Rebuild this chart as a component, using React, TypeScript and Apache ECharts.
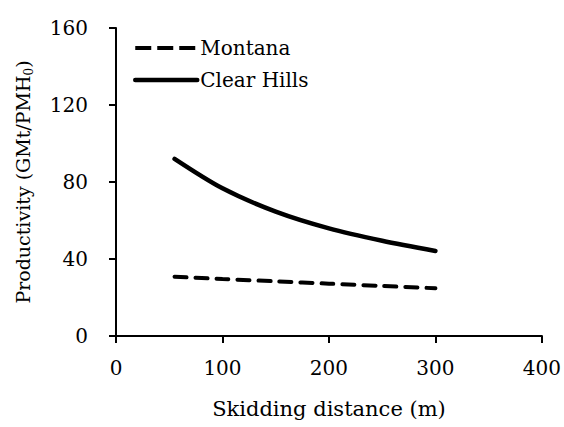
import React, { useEffect, useRef } from "react";
import * as echarts from "echarts";

const distances = [55, 100, 150, 200, 250, 300];
const montana = [30.8, 29.6, 28.4, 27.2, 26.0, 24.8];
const clearHills = [92, 76.7, 64.6, 55.9, 49.5, 44.2];
const seriesNames = ["Montana", "Clear Hills"];

const FONT = "DejaVu Serif";

export default function App() {
  const ref = useRef<HTMLDivElement>(null);
  useEffect(() => {
    if (!ref.current) return;
    const chart = echarts.init(ref.current, undefined, { renderer: "svg" });
    const axisLine = { show: true, lineStyle: { color: "#000", width: 2 } };
    const axisTick = { show: true, inside: false, length: 7, lineStyle: { color: "#000", width: 2 } };
    chart.setOption({
      animation: false,
      backgroundColor: "#fff",
      grid: { left: 116, right: 22, top: 28, bottom: 91, containLabel: false },
      legend: {
        orient: "vertical",
        left: 128,
        top: 33,
        itemWidth: 62,
        itemHeight: 22,
        itemGap: 12,
        itemStyle: { color: "transparent", borderWidth: 0, opacity: 0 },
        data: [
          { name: seriesNames[0], lineStyle: { width: 4, type: [16, 6], color: "#000", cap: "butt" } },
          { name: seriesNames[1], lineStyle: { width: 4.5, type: "solid", color: "#000" } },
        ],
        textStyle: { fontFamily: FONT, fontSize: 20, color: "#000", padding: [0, 0, 0, -2] },
      },
      xAxis: {
        type: "value",
        min: 0,
        max: 400,
        interval: 100,
        name: "Skidding distance (m)",
        nameLocation: "middle",
        nameGap: 62,
        nameTextStyle: { fontFamily: FONT, fontSize: 21, color: "#000" },
        axisLine,
        axisTick,
        splitLine: { show: false },
        axisLabel: { fontFamily: FONT, fontSize: 20, color: "#000", margin: 22 },
      },
      yAxis: {
        type: "value",
        min: 0,
        max: 160,
        interval: 40,
        name: "{a|Productivity (GMt/PMH}{b|0}{a|)}",
        nameLocation: "middle",
        nameRotate: 90,
        nameGap: 81,
        nameTextStyle: {
          fontFamily: FONT,
          fontSize: 19,
          color: "#000",
          rich: {
            a: { fontFamily: FONT, fontSize: 19, color: "#000", lineHeight: 24 },
            b: { fontFamily: FONT, fontSize: 12, color: "#000", lineHeight: 12, verticalAlign: "bottom" },
          },
        },
        axisLine,
        axisTick,
        splitLine: { show: false },
        axisLabel: { fontFamily: FONT, fontSize: 20, color: "#000", margin: 28 },
      },
      series: [
        {
          name: seriesNames[0],
          type: "line",
          data: distances.map((d, i) => [d, montana[i]]),
          symbol: "none",
          smooth: 0.3,
          lineStyle: { color: "#000", width: 4, type: [12, 9], cap: "round" },
          itemStyle: { color: "#000" },
        },
        {
          name: seriesNames[1],
          type: "line",
          data: distances.map((d, i) => [d, clearHills[i]]),
          symbol: "none",
          smooth: 0.3,
          lineStyle: { color: "#000", width: 4.5, cap: "round" },
          itemStyle: { color: "#000" },
        },
      ],
    });
    return () => chart.dispose();
  }, []);
  return (
    <div
      ref={ref}
      style={{ position: "fixed", left: 0, top: 0, width: 564, height: 427 }}
    />
  );
}
